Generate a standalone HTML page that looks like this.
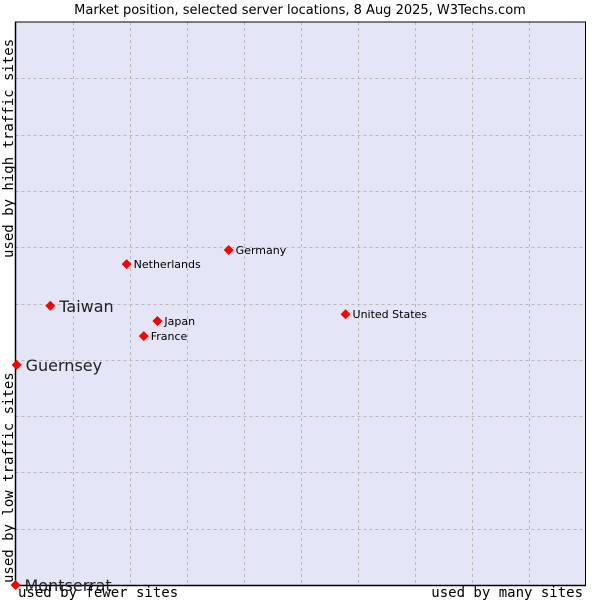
<!DOCTYPE html>
<html><head><meta charset="utf-8"><style>
body{margin:0;background:#fff;width:600px;height:600px;overflow:hidden}
svg text{font-family:"DejaVu Sans","Liberation Sans",sans-serif}
.mono{font-family:"DejaVu Sans Mono","Liberation Mono",monospace}
</style></head><body>
<svg id="chart" width="600" height="600" xmlns="http://www.w3.org/2000/svg">
<text x="300" y="14" text-anchor="middle" font-size="13" fill="#000">Market position, selected server locations, 8 Aug 2025, W3Techs.com</text>
<rect x="15.5" y="22" width="570" height="563" fill="#e4e6f8" stroke="none"/>
<g id="grid"></g>
<line x1="15.5" y1="22" x2="15.5" y2="585" stroke="#000" stroke-width="1.5"/>
<line x1="15" y1="585.5" x2="586" y2="585.5" stroke="#000" stroke-width="1.5"/>
<line x1="15" y1="22" x2="586" y2="22" stroke="#000" stroke-width="1"/>
<line x1="585.5" y1="22" x2="585.5" y2="585" stroke="#000" stroke-width="1"/>
<g id="points"></g>
<text class="mono" x="18" y="597" font-size="14">used by fewer sites</text>
<text class="mono" x="583" y="597" font-size="14" text-anchor="end">used by many sites</text>
<text class="mono" transform="translate(13,583) rotate(-90)" font-size="14">used by low traffic sites</text>
<text class="mono" transform="translate(13,258) rotate(-90)" font-size="14">used by high traffic sites</text>
</svg>
<script>
const names=["Montserrat","Guernsey","Taiwan","Netherlands","Germany","Japan","France","United States"];
const xValues=[0,0.2,6.1,19.5,37.4,24.9,22.5,57.9];
const yValues=[0,39.1,49.6,57.0,59.5,46.9,44.2,48.1];
const highlighted=[true,true,true,false,false,false,false,false];
const X0=15.5,X1=585.5,Y0=585,Y1=22;
const sx=v=>X0+(v/100)*(X1-X0);
const sy=v=>Y0-(v/100)*(Y0-Y1);
const NS="http://www.w3.org/2000/svg";
const grid=document.getElementById('grid');
for(let i=1;i<10;i++){
  const v=i*10;
  let l=document.createElementNS(NS,'line');
  
  
  l.setAttribute('x1',Math.round(sx(v))+0.5);l.setAttribute('x2',Math.round(sx(v))+0.5);
  l.setAttribute('y1',Y1);l.setAttribute('y2',Y0);
  l.setAttribute('stroke','#b8b8b8');l.setAttribute('stroke-dasharray','3,3');
  grid.appendChild(l);
  let h=document.createElementNS(NS,'line');
  
  
  h.setAttribute('y1',Math.round(sy(v))+0.5);h.setAttribute('y2',Math.round(sy(v))+0.5);
  h.setAttribute('x1',X0);h.setAttribute('x2',X1);
  h.setAttribute('stroke','#b8b8b8');h.setAttribute('stroke-dasharray','3,3');
  grid.appendChild(h);
}
const pts=document.getElementById('points');
names.forEach((n,i)=>{
  const x=sx(xValues[i]),y=sy(yValues[i]);
  const g=document.createElementNS(NS,'g');
  
  
  const d=document.createElementNS(NS,'path');
  
  
  d.setAttribute('d',`M${x} ${y-5}L${x+5} ${y}L${x} ${y+5}L${x-5} ${y}Z`);
  d.setAttribute('fill','#ff0000');
  g.appendChild(d);
  const t=document.createElementNS(NS,'text');
  
  
  const big=highlighted[i];
  t.setAttribute('x',x+(big?9:7));
  t.setAttribute('y',y+(big?6:4));
  t.setAttribute('font-size',big?16:11);
  t.setAttribute('fill',big?'#222':'#000');
  t.textContent=n;
  g.appendChild(t);
  pts.appendChild(g);
});
</script>
</body></html>
